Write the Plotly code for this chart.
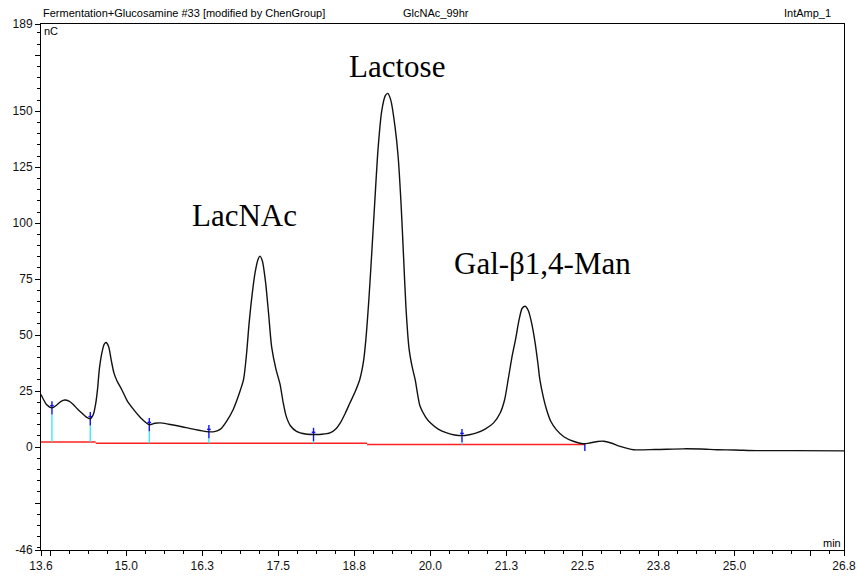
import plotly.graph_objects as go

# ---------------- data ----------------
time_min = [13.60, 13.65, 13.69, 13.78, 13.86, 13.93, 13.99, 14.06, 14.13, 14.20, 14.27, 14.34, 14.41,
            14.46, 14.50, 14.53, 14.56, 14.60, 14.64, 14.67, 14.71, 14.76, 14.80, 14.85, 14.93, 15.02,
            15.12, 15.24, 15.38, 15.47, 15.56, 15.70, 15.88, 16.10, 16.32, 16.45, 16.55, 16.65, 16.76,
            16.86, 16.93, 16.98, 17.02, 17.07, 17.12, 17.17, 17.20, 17.24, 17.29, 17.34, 17.39, 17.46,
            17.53, 17.58, 17.63, 17.70, 17.80, 17.95, 18.08, 18.22, 18.35, 18.45, 18.52, 18.60, 18.68,
            18.76, 18.84, 18.90, 18.94, 18.99, 19.04, 19.09, 19.14, 19.20, 19.26, 19.30, 19.35, 19.42,
            19.47, 19.52, 19.56, 19.60, 19.65, 19.70, 19.75, 19.83, 19.92, 20.00, 20.13, 20.27, 20.40,
            20.52, 20.64, 20.76, 20.90, 21.04, 21.15, 21.22, 21.28, 21.34, 21.40, 21.46, 21.51, 21.56,
            21.61, 21.66, 21.72, 21.77, 21.80, 21.86, 21.91, 21.98, 22.07, 22.20, 22.35, 22.51, 22.62,
            22.75, 22.85, 22.97, 23.12, 23.34, 23.70, 24.16, 24.45, 24.71, 25.00, 25.37, 26.00, 26.80]
signal_nc = [23.5, 20.8, 19.0, 17.5, 18.8, 20.4, 21.0, 20.5, 19.0, 17.0, 15.2, 13.5, 12.6,
             14.5, 19.5, 26.0, 35.0, 42.0, 46.0, 46.7, 45.0, 38.0, 33.0, 29.5, 25.5, 20.5,
             16.8, 13.0, 10.0, 10.6, 10.8, 10.2, 9.3, 8.0, 6.9, 6.9, 8.0, 11.5, 16.8,
             24.0, 30.2, 42.0, 55.0, 68.0, 78.0, 84.0, 85.3, 83.0, 74.0, 60.0, 45.0, 35.0,
             28.0, 20.0, 13.8, 9.5, 7.0, 5.8, 5.6, 5.7, 6.3, 8.2, 10.8, 15.0, 19.8,
             24.5, 30.2, 38.0, 48.0, 66.0, 88.0, 111.0, 133.0, 150.0, 157.0, 158.0, 155.0, 143.0,
             130.0, 108.0, 85.0, 62.0, 44.0, 36.0, 30.2, 18.3, 13.5, 10.8, 8.0, 6.3, 5.4,
             5.1, 5.5, 6.3, 8.0, 10.8, 15.3, 21.0, 30.2, 40.0, 48.0, 57.0, 62.0, 62.9,
             61.0, 56.0, 47.0, 37.0, 30.2, 22.0, 16.8, 11.5, 7.8, 4.5, 2.6, 1.5, 1.8,
             2.5, 2.6, 1.8, 0.3, -1.2, -1.1, -0.8, -0.9, -1.2, -1.3, -1.6, -1.6, -1.7]

# integration baseline segments (start, end, level)
baseline_start = [13.60, 14.50, 18.96]
baseline_end = [14.50, 18.96, 22.54]
baseline_level = [2.2, 1.7, 1.1]

# peak delimiters (time, signal at curve)
delim_t = [13.78, 14.41, 15.38, 16.36, 18.08, 20.52, 22.54]
delim_s = [17.5, 12.6, 10.0, 6.9, 5.6, 5.1, 1.4]

peak_names = ["LacNAc", "Lactose", "Gal-β1,4-Man"]
peak_label_t = [16.94, 19.45, 21.84]
peak_label_s = [103.5, 170.0, 82.0]

x_tick_vals = [13.6, 13.75, 15.0, 16.25, 17.5, 18.75, 20.0, 21.25, 22.5, 23.75, 25.0, 26.25, 26.8]
x_tick_text = ["13.6", "", "15.0", "16.3", "17.5", "18.8", "20.0", "21.3", "22.5", "23.8", "25.0", "", "26.8"]
y_tick_vals = [-46, -25, 0, 25, 50, 75, 100, 125, 150, 175, 189]
y_tick_text = ["-46", "", "0", "25", "50", "75", "100", "125", "150", "", "189"]

# ---------------- figure ----------------
fig = go.Figure()

# baseline (red)
bx, by = [], []
for a, b, l in zip(baseline_start, baseline_end, baseline_level):
    bx += [a, b, None]
    by += [l, l, None]
fig.add_trace(go.Scatter(x=bx, y=by, mode="lines", line=dict(color="#ff2020", width=1.5),
                         hoverinfo="skip", showlegend=False))

def base_at(t):
    for a, b, l in zip(baseline_start, baseline_end, baseline_level):
        if a <= t <= b:
            return l
    return baseline_level[-1]

# cyan drop lines and blue delimiter ticks
cx, cy, ux, uy = [], [], [], []
HALF = 3.0
for i, (t, s) in enumerate(zip(delim_t, delim_s)):
    bl = base_at(t)
    if i < len(delim_t) - 1:
        if s - HALF > bl:
            cx += [t, t, None]
            cy += [bl, s - HALF, None]
        ux += [t, t, None, t - 0.03, t + 0.03, None]
        uy += [s + HALF, s - HALF, None, s + 1.0, s + 1.0, None]
    else:
        ux += [t, t, None]
        uy += [s, s - 3.2, None]
fig.add_trace(go.Scatter(x=cx, y=cy, mode="lines", line=dict(color="#30e8f0", width=1.3),
                         hoverinfo="skip", showlegend=False))
fig.add_trace(go.Scatter(x=ux, y=uy, mode="lines", line=dict(color="#1010ff", width=1.4),
                         hoverinfo="skip", showlegend=False))

# chromatogram
fig.add_trace(go.Scatter(x=time_min, y=signal_nc, mode="lines",
                         line=dict(color="#111111", width=1.4, shape="spline", smoothing=0.7),
                         showlegend=False))

# peak labels
for name, t, s in zip(peak_names, peak_label_t, peak_label_s):
    fig.add_annotation(x=t, y=s, text=name, showarrow=False, xref="x", yref="y",
                       font=dict(family="Liberation Serif, Times New Roman, serif", size=31, color="black"))

hdr_font = dict(family="Liberation Sans, Arial, sans-serif", size=11, color="black")
fig.add_annotation(x=0.0012, y=1.0209, xref="paper", yref="paper", xanchor="left", yanchor="middle",
                   text="Fermentation+Glucosamine #33 [modified by ChenGroup]", showarrow=False,
                   font=hdr_font, borderpad=0)
fig.add_annotation(x=0.4496, y=1.0209, xref="paper", yref="paper", xanchor="left", yanchor="middle",
                   text="GlcNAc_99hr", showarrow=False, font=hdr_font, borderpad=0)
fig.add_annotation(x=0.985, y=1.0209, xref="paper", yref="paper", xanchor="right", yanchor="middle",
                   text="IntAmp_1", showarrow=False, font=hdr_font, borderpad=0)
fig.add_annotation(x=0.0025, y=0.986, xref="paper", yref="paper", xanchor="left", yanchor="middle",
                   text="nC", showarrow=False, font=hdr_font, borderpad=0)
fig.add_annotation(x=0.9975, y=0.0135, xref="paper", yref="paper", xanchor="right", yanchor="middle",
                   text="min", showarrow=False, font=hdr_font, borderpad=0)

tick_font = dict(family="Liberation Sans, Arial, sans-serif", size=12, color="#111111")
fig.update_layout(
    width=858, height=576,
    margin=dict(l=41, r=14, t=24, b=26, pad=0, autoexpand=False),
    paper_bgcolor="white", plot_bgcolor="white",
    font=dict(family="Liberation Sans, Arial, sans-serif"),
    xaxis=dict(range=[13.6, 26.8], showgrid=False, zeroline=False, automargin=False,
               showline=True, linecolor="black", linewidth=1, mirror=True,
               ticks="outside", ticklen=5, tickcolor="black", tickwidth=1,
               tickmode="array", tickvals=x_tick_vals, ticktext=x_tick_text,
               tickfont=tick_font, ticklabelstandoff=0,
               minor=dict(ticks="outside", ticklen=3, tickcolor="black", tick0=13.75, dtick=0.3125)),
    yaxis=dict(range=[-46, 189], showgrid=False, zeroline=False, automargin=False,
               showline=True, linecolor="black", linewidth=1, mirror=True,
               ticks="outside", ticklen=5, tickcolor="black", tickwidth=1,
               tickmode="array", tickvals=y_tick_vals, ticktext=y_tick_text,
               tickfont=tick_font,
               minor=dict(ticks="outside", ticklen=3, tickcolor="black", tick0=0, dtick=5)),
)

fig.write_html("out.html")
